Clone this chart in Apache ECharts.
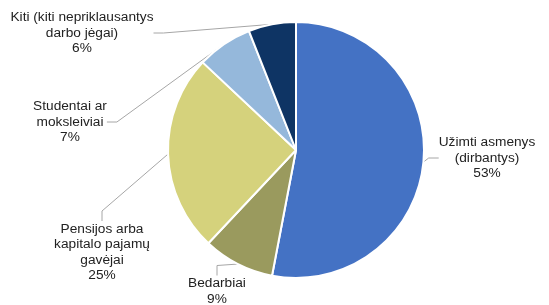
<!DOCTYPE html>
<html>
<head>
<meta charset="utf-8">
<script src="https://cdn.jsdelivr.net/npm/echarts@6/dist/echarts.min.js"></script>
<style>html,body{margin:0;padding:0;background:#fff}#c{width:549px;height:305px}</style>
</head>
<body>
<div id="c"></div>
<script>
const categories = [
  'Užimti asmenys\n(dirbantys)',
  'Bedarbiai',
  'Pensijos arba\nkapitalo pajamų\ngavėjai',
  'Studentai ar\nmoksleiviai',
  'Kiti (kiti nepriklausantys\ndarbo jėgai)'
];
const values = [53, 9, 25, 7, 6];
const colors = ['#4472C4', '#9A9A5E', '#D5D27C', '#95B8DB', '#0E3464'];
const labelPos = [[487, 158], [217, 291], [102, 252], [70, 122], [82, 33]];

const chart = echarts.init(document.getElementById('c'), null, {renderer: 'canvas'});
chart.setOption({
  animation: false,
  series: [{
    type: 'pie',
    center: [296, 150],
    radius: [0, 128],
    startAngle: 90,
    clockwise: true,
    data: categories.map((c, i) => ({name: c, value: values[i], itemStyle: {color: colors[i]}})),
    itemStyle: {borderColor: '#fff', borderWidth: 2},
    label: {
      show: true,
      position: 'outside',
      formatter: p => p.name + '\n' + p.value + '%',
      fontFamily: 'Liberation Sans, Arial, sans-serif',
      fontSize: 13.7,
      lineHeight: 15.5,
      color: '#222',
      align: 'center',
      overflow: 'none'
    },
    labelLine: {show: true, lineStyle: {color: '#a6a6a6', width: 1}, length: 10, length2: 10},
    labelLayout: function (p) {
      const pos = labelPos[p.dataIndex];
      return {x: pos[0], y: pos[1], align: 'center', verticalAlign: 'middle'};
    }
  }]
});
</script>
</body>
</html>
